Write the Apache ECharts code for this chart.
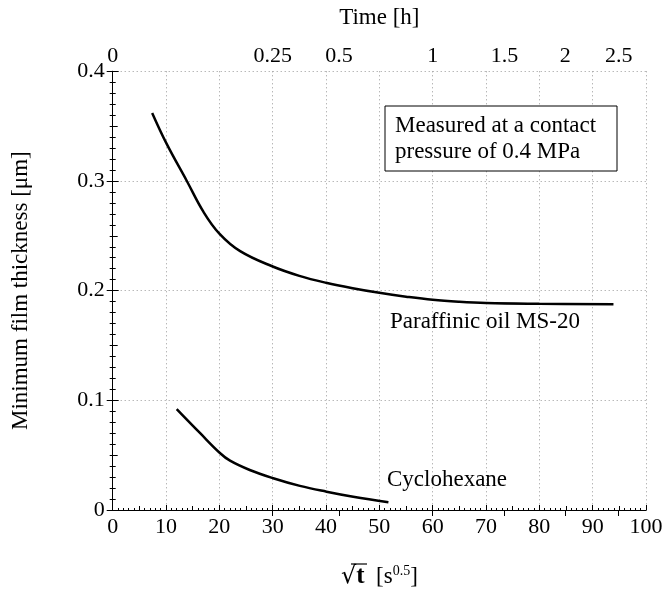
<!DOCTYPE html>
<html>
<head>
<meta charset="utf-8">
<script src="https://cdn.jsdelivr.net/npm/echarts@6/dist/echarts.min.js"></script>
<style>html,body{margin:0;padding:0;background:#fff}#c{width:662px;height:590px}</style>
</head>
<body>
<div id="c"></div>
<script>
// ---- data ----
const paraffinX = [7.4, 10.1, 13.9, 17.0, 20.0, 23.9, 30.0, 35.0, 40.0, 45.0, 50.0, 55.0, 60.0, 65.0, 70.0, 80.0, 93.9];
const paraffinY = [0.362, 0.334, 0.300, 0.272, 0.252, 0.236, 0.222, 0.2135, 0.2072, 0.2022, 0.1980, 0.1945, 0.1916, 0.1898, 0.1887, 0.1880, 0.1875];
const cycloX = [12.0, 16.4, 20.1, 22.0, 25.7, 30.1, 35.1, 40.1, 45.1, 51.7];
const cycloY = [0.092, 0.070, 0.052, 0.045, 0.0365, 0.029, 0.022, 0.0167, 0.0121, 0.007];
const timeHours = [0, 0.25, 0.5, 1, 1.5, 2, 2.5];
const timeLabels = ['0', '0.25', '0.5', '1', '1.5', '2', '2.5'];
const xTickLabels = ['0','10','20','30','40','50','60','70','80','90','100'];
const yTickLabels = ['0','0.1','0.2','0.3','0.4'];

const FONT = 'Liberation Serif';
const FS = 22;   // tick labels
const FN = 23;   // names / annotations
const timePos = timeHours.map(h => Math.sqrt(h * 3600));

const chart = echarts.init(document.getElementById('c'), null, {renderer: 'canvas'});
const baseX = {type: 'value', min: 0, max: 100};
const baseY = {type: 'value', min: 0, max: 0.4};
const lineStyle = {color: '#000', width: 1};

const option = {
  animation: false,
  backgroundColor: '#fff',
  textStyle: {fontFamily: FONT},
  grid: {left: 112.7, right: 16, top: 71.3, bottom: 80, containLabel: false, outerBoundsMode: 'none'},
  xAxis: [
    Object.assign({}, baseX, {
      position: 'bottom', interval: 10,
      name: '{s|√}{t|t}{n|  [s}{p|0.5}{n|]}', nameLocation: 'middle', nameGap: 54,
      nameTextStyle: {rich: {
        s: {fontFamily: 'DejaVu Serif', fontSize: 24, color: '#000'},
        t: {fontFamily: FONT, fontSize: 25, fontWeight: 'bold', color: '#000'},
        n: {fontFamily: FONT, fontSize: FN, color: '#000'},
        p: {fontFamily: FONT, fontSize: 14, color: '#000', verticalAlign: 'top', padding: [0,0,12,0]}
      }},
      axisLine: {show: true, lineStyle},
      axisTick: {show: true, inside: true, length: 5, lineStyle},
      minorTick: {show: true, splitNumber: 10, length: 2, lineStyle},
      axisLabel: {fontFamily: FONT, fontSize: FS, color: '#000', margin: 6,
        formatter: v => xTickLabels[Math.round(v / 10)]},
      splitLine: {show: true, lineStyle: {color: '#999', type: [1, 3], width: 1}},
      minorSplitLine: {show: false}
    }),
    Object.assign({}, baseX, {
      position: 'bottom', interval: 5,
      axisLine: {show: false}, axisLabel: {show: false}, splitLine: {show: false},
      axisTick: {show: true, inside: true, length: 4, lineStyle}
    }),
    Object.assign({}, baseX, {
      position: 'top',
      name: 'Time [h]', nameLocation: 'middle', nameGap: 42,
      nameTextStyle: {fontFamily: FONT, fontSize: FN, color: '#000'},
      axisLine: {show: true, lineStyle},
      axisTick: {show: true, inside: true, length: 6, lineStyle, customValues: timePos.slice(1)},
      axisLabel: {fontFamily: FONT, fontSize: FS, color: '#000', margin: 4, customValues: timePos,
        formatter: v => { const i = timePos.findIndex(p => Math.abs(p - v) < 1e-6); return i >= 0 ? timeLabels[i] : ''; }},
      splitLine: {show: false}
    })
  ],
  yAxis: [
    Object.assign({}, baseY, {
      position: 'left', interval: 0.1,
      name: 'Minimum film thickness [μm]', nameLocation: 'middle', nameGap: 80,
      nameTextStyle: {fontFamily: FONT, fontSize: FN, color: '#000'},
      axisLine: {show: true, lineStyle},
      axisTick: {show: true, inside: true, length: 6, lineStyle},
      minorTick: {show: true, splitNumber: 10, length: 3, lineStyle},
      axisLabel: {fontFamily: FONT, fontSize: FS, color: '#000', margin: 8,
        formatter: v => yTickLabels[Math.round(v * 10)]},
      splitLine: {show: true, lineStyle: {color: '#999', type: [1, 3], width: 1}}
    }),
    Object.assign({}, baseY, {
      position: 'left', interval: 0.05,
      axisLine: {show: false}, axisLabel: {show: false}, splitLine: {show: false},
      axisTick: {show: true, inside: true, length: 5, lineStyle}
    }),
    Object.assign({}, baseY, {
      position: 'right', interval: 0.1,
      axisLine: {show: true, lineStyle}, axisLabel: {show: false}, splitLine: {show: false},
      axisTick: {show: true, inside: true, length: 6, lineStyle},
      minorTick: {show: true, splitNumber: 10, length: 3, lineStyle}
    })
  ],
  series: [
    {type: 'line', name: 'Paraffinic oil MS-20', xAxisIndex: 0, yAxisIndex: 0, smooth: 0.4, symbol: 'none',
      lineStyle: {color: '#000', width: 2.5}, data: paraffinX.map((x, i) => [x, paraffinY[i]])},
    {type: 'line', name: 'Cyclohexane', xAxisIndex: 0, yAxisIndex: 0, smooth: 0.4, symbol: 'none',
      lineStyle: {color: '#000', width: 2.5}, data: cycloX.map((x, i) => [x, cycloY[i]])}
  ],
  graphic: [
    {type: 'rect', shape: {x: 385, y: 106, width: 232, height: 65},
      style: {fill: '#fff', stroke: '#000', lineWidth: 1}, z: 10},
    {type: 'text', x: 395, y: 113, z: 11,
      style: {text: 'Measured at a contact\npressure of 0.4 MPa', fontFamily: FONT, fontSize: FN, fill: '#000', lineHeight: 26}},
    {type: 'text', x: 390, y: 310, z: 11,
      style: {text: 'Paraffinic oil MS-20', fontFamily: FONT, fontSize: FN, fill: '#000'}},
    {type: 'text', x: 387, y: 468, z: 11,
      style: {text: 'Cyclohexane', fontFamily: FONT, fontSize: FN, fill: '#000'}},
    {type: 'line', shape: {x1: 351, y1: 564, x2: 367, y2: 564}, style: {stroke: '#000', lineWidth: 1.2}, z: 11}
  ]
};
chart.setOption(option);
</script>
</body>
</html>
